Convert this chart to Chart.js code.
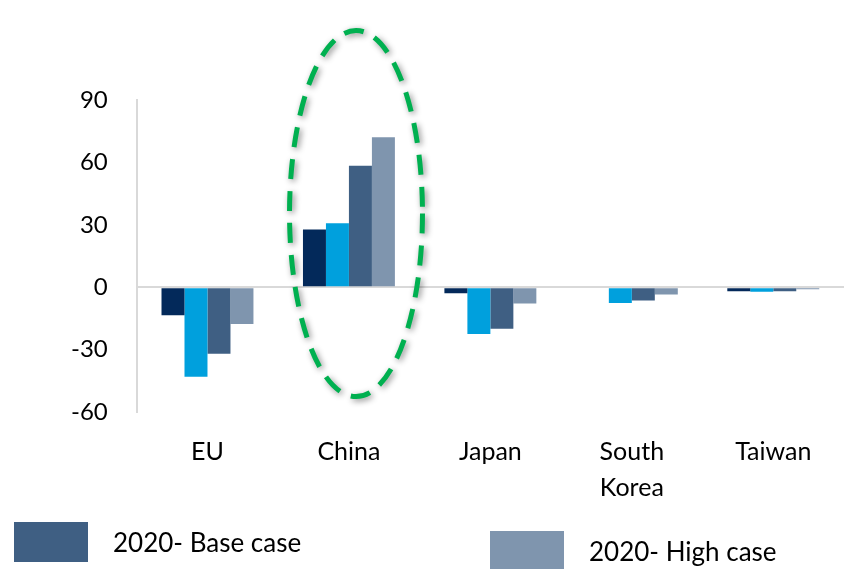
<!DOCTYPE html>
<html lang="en">

<head>
    <meta charset="UTF-8">
    <title>Trade change by partner</title>
    <script src="https://cdn.jsdelivr.net/npm/chart.js"></script>
    <style>
        body {
            margin: 0;
            background: #ffffff;
            font-family: 'Lato', sans-serif;
        }

        .wrap {
            position: relative;
            width: 856px;
            height: 569px;
            overflow: hidden;
        }

        #tradeChart {
            position: absolute;
            left: 0;
            top: 0;
        }

        .legend-item {
            position: absolute;
            display: flex;
            align-items: center;
            font-size: 26px;
            color: #000;
        }

        .legend-item span.box {
            display: inline-block;
            width: 74px;
            height: 40px;
            margin-right: 25px;
        }
    </style>
</head>

<body>
    <div class="wrap">
        <canvas id="tradeChart" width="856" height="569"></canvas>
        <div id="legend"></div>
    </div>
    <script>
        const categories = ['EU', 'China', 'Japan', ['South', 'Korea'], 'Taiwan'];
        const seriesNames = ['2020- Low case', '2020- Mid case', '2020- Base case', '2020- High case'];
        const seriesA = [-13.5, 27.8, -2.9, 0.5, -2.0];
        const seriesB = [-43, 30.8, -22.5, -7.6, -2.2];
        const seriesC = [-32, 58.4, -20, -6.4, -2.0];
        const seriesD = [-17.7, 72.1, -7.8, -3.5, -1.0];
        const yTicks = [-60, -30, 0, 30, 60, 90];
        const legendShown = ['2020- Base case', '2020- High case'];

        const colors = ['#03295a', '#00a0dd', '#3f5f83', '#7f95ae'];
        const allSeries = [seriesA, seriesB, seriesC, seriesD];

        // dashed highlight around the China group
        const ellipsePlugin = {
            id: 'highlight',
            afterDatasetsDraw(chart) {
                const ctx = chart.ctx;
                const x = chart.scales.x;
                const y = chart.scales.y;
                const step = x.getPixelForValue(1) - x.getPixelForValue(0);
                const cx = x.getPixelForValue(1) + step * 0.05;
                const cy = y.getPixelForValue(35.4);
                const ry = y.getPixelForValue(0) - y.getPixelForValue(88);
                const rx = step * 0.47;
                ctx.save();
                ctx.shadowColor = 'rgba(0,0,0,0.45)';
                ctx.shadowBlur = 6;
                ctx.shadowOffsetX = 2;
                ctx.shadowOffsetY = 2;
                ctx.strokeStyle = '#00b050';
                ctx.lineWidth = 5;
                ctx.setLineDash([20, 12]);
                ctx.beginPath();
                ctx.ellipse(cx, cy, rx, ry, 0, 0, Math.PI * 2);
                ctx.stroke();
                ctx.restore();
            }
        };

        const ctx = document.getElementById('tradeChart').getContext('2d');
        const chart = new Chart(ctx, {
            type: 'bar',
            data: {
                labels: categories,
                datasets: allSeries.map((s, i) => ({
                    label: seriesNames[i],
                    data: s,
                    backgroundColor: colors[i],
                    borderWidth: 0,
                    barPercentage: 1,
                    categoryPercentage: 0.65
                }))
            },
            options: {
                responsive: false,
                animation: false,
                layout: {
                    padding: { left: 42, right: 12, top: 100, bottom: 41 }
                },
                plugins: {
                    legend: { display: false },
                    tooltip: { enabled: false }
                },
                scales: {
                    x: {
                        grid: { display: false, drawTicks: false },
                        border: { display: false },
                        ticks: {
                            color: '#000',
                            padding: 22,
                            font: { family: 'Lato', size: 25, lineHeight: 1.44 }
                        }
                    },
                    y: {
                        min: -60,
                        max: 90,
                        afterBuildTicks: axis => {
                            axis.ticks = yTicks.map(v => ({ value: v }));
                        },
                        grid: {
                            drawTicks: false,
                            lineWidth: 2,
                            color: c => c.tick && c.tick.value === 0 ? '#d9d9d9' : 'rgba(0,0,0,0)'
                        },
                        border: { display: true, color: '#d9d9d9', width: 2 },
                        ticks: {
                            color: '#000',
                            padding: 29,
                            font: { family: 'Lato', size: 24 }
                        }
                    }
                }
            },
            plugins: [ellipsePlugin]
        });

        // legend with only the two shown series
        const legendPos = [{ left: 14, top: 522 }, { left: 490, top: 531 }];
        const legend = document.getElementById('legend');
        legendShown.forEach((name, i) => {
            const ds = chart.data.datasets.find(d => d.label === name);
            const item = document.createElement('div');
            item.className = 'legend-item';
            item.style.left = legendPos[i].left + 'px';
            item.style.top = legendPos[i].top + 'px';
            item.innerHTML = `<span class="box" style="background:${ds.backgroundColor}"></span>${name}`;
            legend.appendChild(item);
        });
    </script>
</body>

</html>
